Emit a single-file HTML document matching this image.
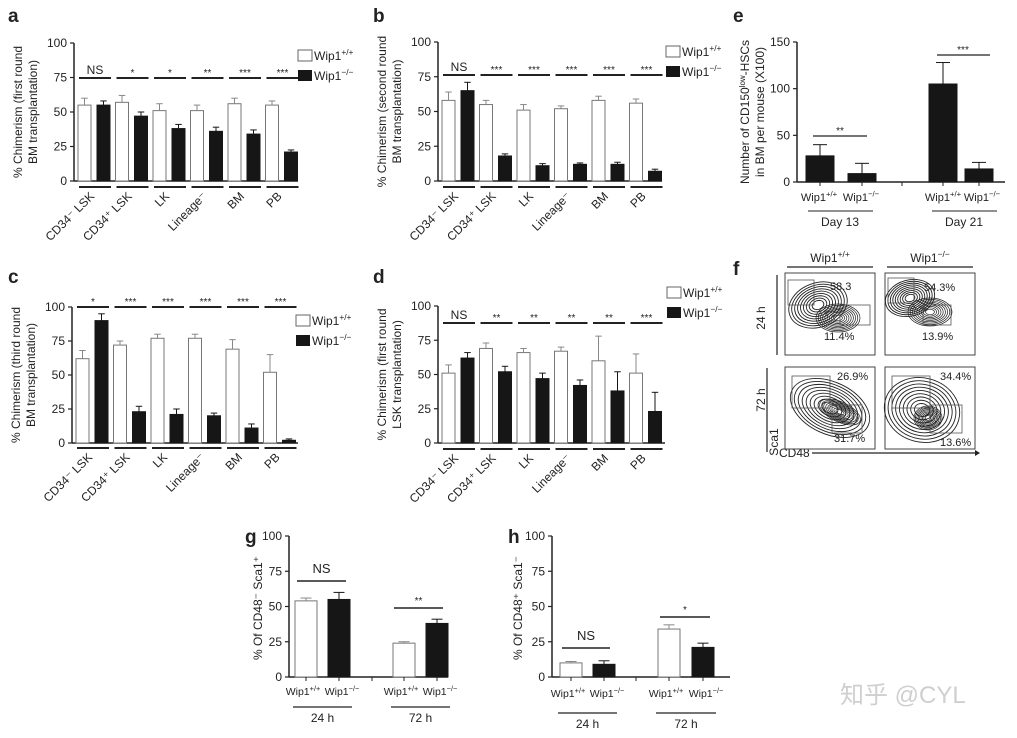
<!DOCTYPE html>
<html><head><meta charset="utf-8"><style>
html,body{margin:0;padding:0;background:#fff;}
svg text{font-family:"Liberation Sans","Noto Sans CJK SC",sans-serif;fill:#222;}
</style></head><body>
<svg id="fig" width="1017" height="733" viewBox="0 0 1017 733" xmlns="http://www.w3.org/2000/svg"></svg>
<script>
// ---- data ----
const cats = ['CD34⁻ LSK','CD34⁺ LSK','LK','Lineage⁻','BM','PB'];
const yTicks = [0,25,50,75,100];
const aWT=[55,57,51,51,56,55], aWTerr=[5,5,5,4,4,3];
const aKO=[55,47,38,36,34,21], aKOerr=[3,3,3,3,3,1.5];
const aSig=['NS','*','*','**','***','***'];
const bWT=[58,55,51,52,58,56], bWTerr=[6,3,4,2,3,3];
const bKO=[65,18,11,12,12,7], bKOerr=[6,1.5,1.5,1,1.5,1.5];
const bSig=['NS','***','***','***','***','***'];
const cWT=[62,72,77,77,69,52], cWTerr=[6,3,3,3,7,13];
const cKO=[90,23,21,20,11,2], cKOerr=[5,4,4,2,3,1];
const cSig=['*','***','***','***','***','***'];
const dWT=[51,69,66,67,60,51], dWTerr=[6,4,3,3,18,14];
const dKO=[62,52,47,42,38,23], dKOerr=[4,4,4,4,14,14];
const dSig=['NS','**','**','**','**','***'];
const eVals=[28,9,105,14], eErr=[12,11,23,7];
const eTicks=[0,50,100,150];
const gVals=[54,55,24,38], gErr=[2,5,1,3];
const hVals=[10,9,34,21], hErr=[1,2.5,3,3];
const ghKinds=['W','K','W','K'];

const svg=document.getElementById('fig');
const NS='http://www.w3.org/2000/svg';
function mk(tag,attrs,parent,text){const e=document.createElementNS(NS,tag);for(const k in attrs)e.setAttribute(k,attrs[k]);if(text!==undefined)e.textContent=text;(parent||svg).appendChild(e);return e;}
function line(x1,y1,x2,y2,w,p,c){return mk('line',{x1,y1,x2,y2,stroke:c||'#222','stroke-width':w||1},p);}
function grp(name){const g=mk('g',{});return g;}
function wipText(p,x,y,sup,anchor,size){
  const s=size||12;
  const t=mk('text',{x,y,'font-size':s,'text-anchor':anchor||'start'},p);
  mk('tspan',{},t,'Wip1');mk('tspan',{dy:-s*0.4,'font-size':s*0.7},t,sup);return t;}
function letter(p,ch,x,y){const t=mk('text',{x,y,'font-size':19,'font-weight':'bold'},p,ch);}
function yAxis(p,ax,y0,ytop,end,ticks,max){
  const ys=v=>y0-v/max*(y0-ytop);
  line(ax,ytop,ax,y0,1.5,p);line(ax,y0,end,y0,1.5,p);
  ticks.forEach(t=>{line(ax-4,ys(t),ax,ys(t),1.2,p);mk('text',{x:ax-7,y:ys(t)+4,'font-size':12,'text-anchor':'end'},p,String(t));});
  return ys;}
function bar(p,x,w,v,err,ys,kind,name){
  const y0=ys(0),y=ys(v);
  const r=mk('rect',{x,y,width:w,height:y0-y,fill:kind==='K'?'#161616':'#fff',stroke:kind==='K'?'#161616':'#777','stroke-width':1},p);
  
  const cx=x+w/2,ye=ys(v+err);const c=kind==='K'?'#161616':'#888';
  line(cx,y,cx,ye,1,p,c);line(cx-w/4,ye,cx+w/4,ye,1,p,c);}
function ylabel(p,lines,x,yc,gap){lines.forEach((s,i)=>{const xx=x+i*gap;mk('text',{x:xx,y:yc,'font-size':12,'text-anchor':'middle',transform:`rotate(-90 ${xx} ${yc})`},p,s);});}
function panel(name,cfg,WT,WTe,KO,KOe,sig,ylab){
  const p=grp('panel-'+name);letter(p,name,cfg.lx,cfg.ly);
  const ys=yAxis(p,cfg.ax,cfg.y0,cfg.y100,cfg.end,yTicks,100);
  cats.forEach((c,i)=>{
    const s=cfg.ax+2+i*37.5;
    bar(p,s+2,13,WT[i],WTe[i],ys,'W','bar-wt-'+i);
    bar(p,s+21,13,KO[i],KOe[i],ys,'K','bar-ko-'+i);
    line(s+3,cfg.grpY,s+35,cfg.grpY,2,p);
    line(s+3,cfg.sigY,s+35,cfg.sigY,2,p);
    mk('text',{x:s+19,y:cfg.sigY-(sig[i]==='NS'?4:2),'font-size':sig[i]==='NS'?12:10,'text-anchor':'middle'},p,sig[i]);
    const tx=s+19,ty=cfg.grpY+10;
    mk('text',{x:tx,y:ty,'font-size':12,'text-anchor':'end',transform:`rotate(-45 ${tx} ${ty})`},p,c);
  });
  ylabel(p,ylab,cfg.ax-52,(cfg.y0+cfg.y100)/2,15);
  const lg=grp('legend-'+name);p.appendChild(lg);
  mk('rect',{x:cfg.legX,y:cfg.legY[0]-10,width:14,height:11,fill:'#fff',stroke:'#666'},lg);wipText(lg,cfg.legX+16,cfg.legY[0],'+/+');
  mk('rect',{x:cfg.legX,y:cfg.legY[1]-10,width:14,height:11,fill:'#161616'},lg);wipText(lg,cfg.legX+16,cfg.legY[1],'−/−');
}
panel('a',{lx:8,ly:22,ax:74,y0:181,y100:43,end:298,sigY:78,grpY:187,legX:298,legY:[60,80]},aWT,aWTerr,aKO,aKOerr,aSig,['% Chimerism (first round','BM transplantation)']);
panel('b',{lx:373,ly:22,ax:438,y0:181,y100:42,end:662,sigY:75,grpY:187,legX:666,legY:[56,76]},bWT,bWTerr,bKO,bKOerr,bSig,['% Chimerism (second round','BM transplantation)']);
panel('c',{lx:8,ly:283,ax:72,y0:443,y100:307,end:298,sigY:307,grpY:448,legX:296,legY:[325,345]},cWT,cWTerr,cKO,cKOerr,cSig,['% Chimerism (third round','BM transplantation)']);
panel('d',{lx:373,ly:283,ax:438,y0:443,y100:306,end:665,sigY:323,grpY:449,legX:667,legY:[297,317]},dWT,dWTerr,dKO,dKOerr,dSig,['% Chimerism (first round','LSK transplantation)']);

// panel e
(function(){
  const p=grp('panel-e');letter(p,'e',733,22);
  const ys=yAxis(p,797,182,42,1005,eTicks,150);
  const xs=[806,848,929,965];
  eVals.forEach((v,i)=>bar(p,xs[i],28,v,eErr[i],ys,'K','bar-e-'+i));
  line(902,182,902,186,1,p);
  [0,1,2,3].forEach(i=>line(xs[i]+14,182,xs[i]+14,186,1,p));
  wipText(p,819,201,'+/+','middle',11);wipText(p,861,201,'−/−','middle',11);
  wipText(p,943,201,'+/+','middle',11);wipText(p,982,201,'−/−','middle',11);
  line(808,211,873,211,1,p);line(932,211,997,211,1,p);
  mk('text',{x:840,y:226,'font-size':12,'text-anchor':'middle'},p,'Day 13');
  mk('text',{x:964,y:226,'font-size':12,'text-anchor':'middle'},p,'Day 21');
  line(813,136,867,136,1.2,p);mk('text',{x:840,y:134,'font-size':10,'text-anchor':'middle'},p,'**');
  line(937,55,990,55,1.2,p);mk('text',{x:963,y:53,'font-size':10,'text-anchor':'middle'},p,'***');
  const t=mk('text',{x:749,y:112,'font-size':12,'text-anchor':'middle',transform:'rotate(-90 749 112)'},p);
  mk('tspan',{},t,'Number of CD150');mk('tspan',{dy:-4,'font-size':8},t,'low');mk('tspan',{dy:4},t,'-HSCs');
  mk('text',{x:764,y:112,'font-size':12,'text-anchor':'middle',transform:'rotate(-90 764 112)'},p,'in BM per mouse (X100)');
})();

// panel f (flow plots)
(function(){
  const p=grp('panel-f');letter(p,'f',733,275);
  wipText(p,830,262,'+/+','middle');wipText(p,930,262,'−/−','middle');
  line(787,267,873,267,1.2,p);line(887,267,973,267,1.2,p);
  line(777,275,777,355,1.2,p);line(767,368,767,452,1.2,p);
  mk('text',{x:765,y:318,'font-size':12,'text-anchor':'middle',transform:'rotate(-90 765 318)'},p,'24 h');
  mk('text',{x:765,y:400,'font-size':12,'text-anchor':'middle',transform:'rotate(-90 765 400)'},p,'72 h');
  mk('text',{x:778,y:442,'font-size':12,'text-anchor':'middle',transform:'rotate(-90 778 442)'},p,'Sca1');
  mk('text',{x:779,y:457,'font-size':12},p,'CD48');
  line(812,453,975,453,1.2,p);mk('path',{d:'M975,450 L980,453 L975,456Z',fill:'#222'},p);
  const plots=[{x:785,y:273,c:[[818,305,30,22,-20],[838,318,22,14,0]],g1:[788,280,26,25],g2:[840,305,30,20],t1:['58.3',830,290],t2:['11.4%',824,340]},
    {x:885,y:273,c:[[910,298,25,18,-15],[930,312,22,14,0]],g1:[888,278,26,25],g2:[923,305,28,20],t1:['54.3%',924,291],t2:['13.9%',922,340]},
    {x:785,y:367,c:[[830,408,42,26,25],[840,412,22,10,25]],g1:[792,376,38,32],g2:[832,405,30,28],t1:['26.9%',837,380],t2:['31.7%',834,442]},
    {x:885,y:367,c:[[922,410,38,32,15],[928,418,14,12,0]],g1:[892,376,38,32],g2:[930,405,32,28],t1:['34.4%',940,380],t2:['13.6%',940,446]}];
  plots.forEach((pl,i)=>{
    const fg=grp('flow-plot-'+i);p.appendChild(fg);
    mk('rect',{x:pl.x,y:pl.y,width:90,height:82,fill:'#fff',stroke:'#444','stroke-width':1},fg);
    pl.c.forEach((c,j)=>{for(let k=0;k<9;k++){const s=1-k*0.1;mk('ellipse',{cx:c[0],cy:c[1],rx:c[2]*s,ry:c[3]*s,fill:'none',stroke:'#222','stroke-width':j===1?0.7:0.9,transform:`rotate(${c[4]} ${c[0]} ${c[1]})`},fg);}});
    mk('rect',{x:pl.g1[0],y:pl.g1[1],width:pl.g1[2],height:pl.g1[3],fill:'none',stroke:'#555','stroke-width':0.8},fg);
    mk('rect',{x:pl.g2[0],y:pl.g2[1],width:pl.g2[2],height:pl.g2[3],fill:'none',stroke:'#555','stroke-width':0.8},fg);
    mk('text',{x:pl.t1[1],y:pl.t1[2],'font-size':11},fg,pl.t1[0]);
    mk('text',{x:pl.t2[1],y:pl.t2[2],'font-size':11},fg,pl.t2[0]);
  });
})();

// panels g and h
function smallPanel(name,cfg,vals,errs,ylab){
  const p=grp('panel-'+name);letter(p,name,cfg.lx,543);
  const ys=yAxis(p,cfg.ax,677,536,cfg.end,yTicks,100);
  vals.forEach((v,i)=>{bar(p,cfg.xs[i],22,v,errs[i],ys,ghKinds[i],'bar-'+name+'-'+i);line(cfg.xs[i]+11,677,cfg.xs[i]+11,681,1,p);});
  line(cfg.mid,677,cfg.mid,681,1,p);
  cfg.xs.forEach((x,i)=>wipText(p,x+11+(i%2?3:-3),cfg.lblY,i%2?'−/−':'+/+','middle',10.5));
  line(cfg.xs[0]-2,cfg.grpY,cfg.xs[1]+24,cfg.grpY,1.2,p);line(cfg.xs[2]-2,cfg.grpY,cfg.xs[3]+24,cfg.grpY,1.2,p);
  mk('text',{x:(cfg.xs[0]+cfg.xs[1]+22)/2,y:cfg.grpY+15,'font-size':12,'text-anchor':'middle'},p,'24 h');
  mk('text',{x:(cfg.xs[2]+cfg.xs[3]+22)/2,y:cfg.grpY+15,'font-size':12,'text-anchor':'middle'},p,'72 h');
  cfg.sig.forEach(s=>{line(s[0],s[2],s[1],s[2],1.5,p);mk('text',{x:(s[0]+s[1])/2,y:s[2]-(s[3]==='NS'?8:4),'font-size':s[3]==='NS'?13:10,'text-anchor':'middle'},p,s[3]);});
  mk('text',{x:cfg.ylx,y:608,'font-size':12,'text-anchor':'middle',transform:`rotate(-90 ${cfg.ylx} 608)`},p,ylab);
}
smallPanel('g',{lx:245,ax:289,end:448,xs:[295,328,393,426],mid:372,lblY:695,grpY:707,ylx:262,
  sig:[[297,346,581,'NS'],[394,443,608,'**']]},gVals,gErr,'% Of CD48⁻ Sca1⁺');
smallPanel('h',{lx:508,ax:552,end:730,xs:[560,593,658,692],mid:636,lblY:697,grpY:713,ylx:522,
  sig:[[562,610,648,'NS'],[660,710,617,'*']]},hVals,hErr,'% Of CD48⁺ Sca1⁻');

// watermark
const wm=mk('text',{x:840,y:703,'font-size':24,style:'fill:#cfcfcf'},svg,'知乎 @CYL');


</script>
</body></html>
